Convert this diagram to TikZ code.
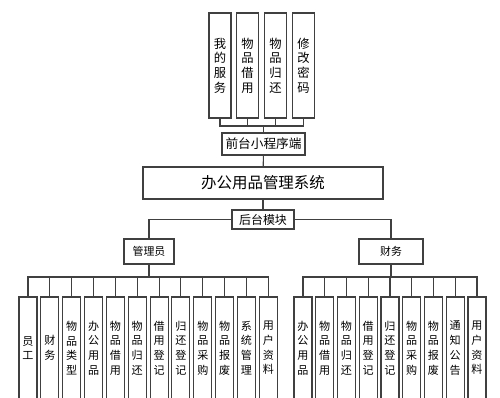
\documentclass[tikz,border=0pt]{standalone}
\usepackage{fontspec}
\setmainfont{Noto Sans CJK SC}
\usepackage{tikz}
\usetikzlibrary{positioning}

\tikzset{
    box/.style={draw=black!75, line width=0.6pt, fill=white, inner sep=0pt, align=center},
    tallbox/.style={box, minimum width=4.4mm, minimum height=21mm, font=\fontsize{7}{8.4}\selectfont},
    leafbox/.style={box, minimum width=3.6mm, minimum height=20.4mm, font=\fontsize{6.3}{8.4}\selectfont},
    link/.style={draw=black!75, line width=0.6pt}
}

\begin{document}
\begin{tikzpicture}[x=0.02cm, y=-0.02cm]
    \useasboundingbox (0,0) rectangle (500,397);
    \clip (0,0) rectangle (500,397);

    % front end
    \node[box, minimum width=16.6mm, minimum height=4.4mm, font=\fontsize{7.2}{8}\selectfont] (front) at (263.5,144) {前台小程序端};
    \coordinate (fbus) at (263.5,126);
    \foreach \x/\t [count=\i] in {220/{我\\的\\服\\务}, 247.5/{物\\品\\借\\用}, 275.5/{物\\品\\归\\还}, 303.5/{修\\改\\密\\码}} {
        \node[tallbox] (top\i) at (\x,65.5) {\t};
        \draw[link] (top\i.south) |- (fbus);
    }
    \draw[link] (front) -- (fbus);

    % system
    \node[box, minimum width=48mm, minimum height=6.4mm, font=\fontsize{8.8}{10}\selectfont] (sys) at (263,183) {办公用品管理系统};
    \node[box, minimum width=12.4mm, minimum height=3.8mm, font=\fontsize{6.8}{8}\selectfont] (back) at (263,219.5) {后台模块};
    \draw[link] (front) -- (sys);
    \draw[link] (sys) -- (back);

    % roles
    \node[box, minimum width=10mm, minimum height=5mm, font=\fontsize{6.2}{7}\selectfont] (admin) at (149,251.5) {管理员};
    \node[box, minimum width=12.8mm, minimum height=5mm, font=\fontsize{6.2}{7}\selectfont] (fin) at (391,251.5) {财务};
    \draw[link] (back.west) -| (admin.north);
    \draw[link] (back.east) -| (fin.north);

    % admin modules
    \coordinate (abus) at (149,277);
    \draw[link] (admin) -- (abus);
    \foreach \t [count=\i from 0] in {{员\\工}, {财\\务}, {物\\品\\类\\型}, {办\\公\\用\\品}, {物\\品\\借\\用}, {物\\品\\归\\还}, {借\\用\\登\\记}, {归\\还\\登\\记}, {物\\品\\采\\购}, {物\\品\\报\\废}, {系\\统\\管\\理}, {用\\户\\资\\料}} {
        \node[leafbox] (a\i) at ({28+21.85*\i},348) {\t};
        \draw[link] (a\i.north) |- (abus);
    }

    % finance modules
    \coordinate (fbus2) at (391,277);
    \draw[link] (fin) -- (fbus2);
    \foreach \t [count=\i from 0] in {{办\\公\\用\\品}, {物\\品\\借\\用}, {物\\品\\归\\还}, {借\\用\\登\\记}, {归\\还\\登\\记}, {物\\品\\采\\购}, {物\\品\\报\\废}, {通\\知\\公\\告}, {用\\户\\资\\料}} {
        \node[leafbox] (f\i) at ({303+21.75*\i},348) {\t};
        \draw[link] (f\i.north) |- (fbus2);
    }
\end{tikzpicture}
\end{document}
